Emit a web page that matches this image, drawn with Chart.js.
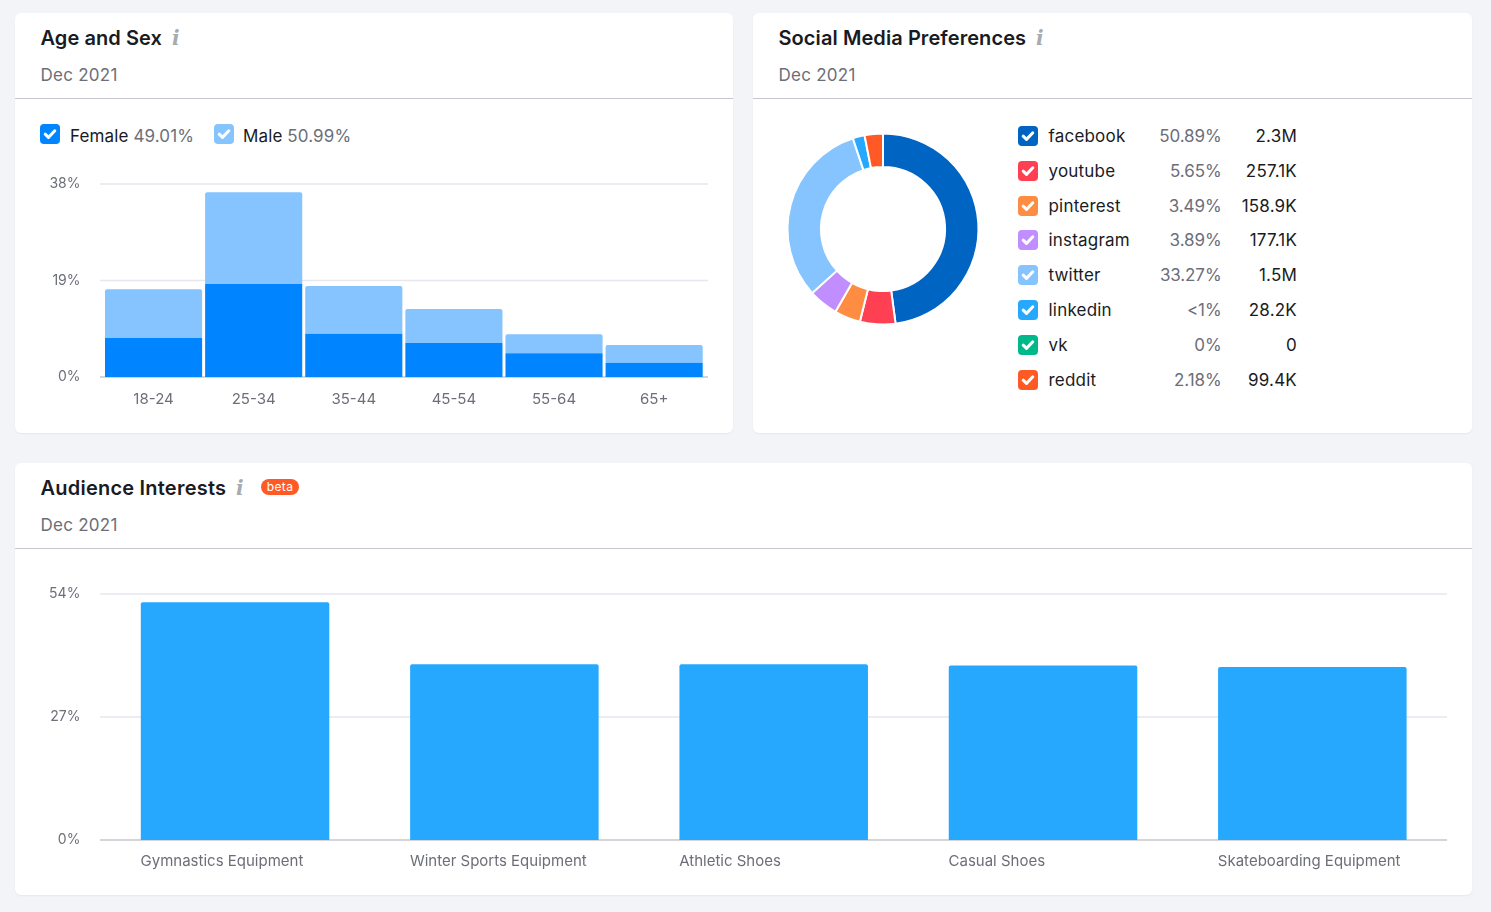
<!DOCTYPE html>
<html>
<head>
<meta charset="utf-8">
<title>Audience overview</title>
<script src="https://cdn.jsdelivr.net/npm/chart.js@4/dist/chart.umd.min.js"></script>
<style>
  html, body { margin: 0; padding: 0; background: #f2f4f8; }
  body { position: relative; width: 1491px; height: 912px; overflow: hidden; font-family: Inter, sans-serif; color: #191b23; }
  .card { position: absolute; background: #fff; border-radius: 6px; box-shadow: 0 1px 2px rgba(25,27,35,.06); }
  .head { position: absolute; left: 0; right: 0; top: 0; height: 85px; border-bottom: 1px solid #c4c7cf; }
  .title { position: absolute; left: 25.5px; top: 12px; font-size: 20px; line-height: 26px; font-weight: 600; white-space: nowrap; letter-spacing: .08px; }
  .info { position: absolute; top: 13px; font: italic 700 20px/24px "DejaVu Serif", serif; color: #a4acb0; }
  .date { position: absolute; left: 25.5px; top: 50px; font-size: 17px; line-height: 24px; color: #6c6e79; white-space: nowrap; letter-spacing: .25px; }
  .badge { position: absolute; left: 246px; top: 16px; width: 38px; height: 16px; border-radius: 8px; background: #ff5a26; color: #fff; font-size: 12px; line-height: 15px; text-align: center; letter-spacing: .4px; }
  canvas { position: absolute; }
  .box { position: absolute; width: 20px; height: 20px; border-radius: 4px; }
  .box svg { position: absolute; left: 0; top: 0; }
  .lab { position: absolute; font-size: 17px; line-height: 24px; white-space: nowrap; letter-spacing: .12px; }
  .lab span { color: #6c6e79; }
  .num { position: absolute; font-size: 17px; line-height: 24px; text-align: right; white-space: nowrap; }
  .muted { color: #6c6e79; letter-spacing: -.1px; }
  .count { letter-spacing: .2px; }
</style>
</head>
<body>
<div class="card" style="left:15px;top:13px;width:718px;height:420px">
  <div class="head"></div>
  <div class="title">Age and Sex</div>
  <div class="info" style="left:157px">i</div>
  <div class="date">Dec 2021</div>
</div>
<div class="card" style="left:753px;top:13px;width:719px;height:420px">
  <div class="head"></div>
  <div class="title">Social Media Preferences</div>
  <div class="info" style="left:283px">i</div>
  <div class="date">Dec 2021</div>
</div>
<div class="card" style="left:15px;top:463px;width:1457px;height:432px">
  <div class="head"></div>
  <div class="title" style="letter-spacing:.22px">Audience Interests</div>
  <div class="info" style="left:221px">i</div>
  <div class="badge">beta</div>
  <div class="date">Dec 2021</div>
</div>
<div id="legends"></div>
<canvas id="ageChart"></canvas>
<canvas id="socialChart"></canvas>
<canvas id="interestChart"></canvas>

<script>
// ── Data ──────────────────────────────────────────────────────────────────
var ageGroups = ['18-24', '25-34', '35-44', '45-54', '55-64', '65+'];
var femaleShare = [7.7, 18.3, 8.5, 6.7, 4.7, 2.8];
var maleShare = [9.6, 18.1, 9.4, 6.7, 3.7, 3.5];
var ageTicks = [0, 19, 38];

var networks = ['facebook', 'youtube', 'pinterest', 'instagram', 'twitter', 'linkedin', 'vk', 'reddit'];
var networkPercents = ['50.89%', '5.65%', '3.49%', '3.89%', '33.27%', '<1%', '0%', '2.18%'];
var networkCounts = ['2.3M', '257.1K', '158.9K', '177.1K', '1.5M', '28.2K', '0', '99.4K'];
// slice sizes as drawn in the picture, they differ a bit from the printed percents
var networkSlices = [47.9, 6.0, 4.4, 5.0, 31.6, 2.0, 0, 3.1];
var networkColors = ['#0064c2', '#ff4053', '#ff8c43', '#c08eff', '#85c4ff', '#27a8ff', '#00b98a', '#ff5a26'];

var interests = ['Gymnastics Equipment', 'Winter Sports Equipment', 'Athletic Shoes', 'Casual Shoes', 'Skateboarding Equipment'];
var interestShare = [52.2, 38.6, 38.6, 38.3, 38.0];
var interestTicks = [0, 27, 54];

// ── Helpers ───────────────────────────────────────────────────────────────
var tickColor = '#6c6e79';
var checkSvg = '<svg width="20" height="20" viewBox="0 0 20 20"><path d="M5.2 10.2l3.3 3.2 6.3-6.6" fill="none" stroke="#fff" stroke-width="3" stroke-linecap="round" stroke-linejoin="round"/></svg>';

function place(canvas, left, top, width, height) {
    canvas.width = width;
    canvas.height = height;
    canvas.style.left = left + 'px';
    canvas.style.top = top + 'px';
    canvas.style.width = width + 'px';
    canvas.style.height = height + 'px';
}

function addBox(parent, left, top, color) {
    var b = document.createElement('div');
    b.className = 'box';
    b.style.left = left + 'px';
    b.style.top = top + 'px';
    b.style.background = color;
    b.innerHTML = checkSvg;
    parent.appendChild(b);
}

function addText(parent, cls, css, html) {
    var d = document.createElement('div');
    d.className = cls;
    d.style.cssText = css;
    if (html.indexOf('</span>') > 0) d.innerHTML = html;
    else d.textContent = html;
    parent.appendChild(d);
}

// gridlines run a little past the plot area in the first chart
var gridPlugin = {
    id: 'wideGrid',
    beforeDatasetsDraw: function (chart, args, opts) {
        var y = chart.scales.y, ctx = chart.ctx;
        ctx.save();
        ctx.lineWidth = 1.5;
        y.ticks.forEach(function (t) {
            var py = y.getPixelForValue(t.value);
            ctx.strokeStyle = t.value === 0 ? '#c4c7cf' : '#e6e7ef';
            ctx.beginPath();
            ctx.moveTo(opts.from, py);
            ctx.lineTo(opts.to, py);
            ctx.stroke();
        });
        ctx.restore();
    }
};

function barOptions(cfg) {
    return {
        responsive: false,
        animation: false,
        layout: { padding: { top: 14, right: cfg.right, left: 0, bottom: 0 } },
        plugins: {
            legend: { display: false },
            tooltip: { enabled: false },
            wideGrid: { from: cfg.gridFrom, to: cfg.gridTo }
        },
        scales: {
            x: {
                stacked: true,
                grid: { display: false, drawTicks: false },
                border: { display: false },
                afterFit: function (s) {
                    s.height = cfg.axisHeight;
                    s.paddingLeft = 0;
                    s.paddingRight = 0;
                },
                ticks: {
                    color: tickColor,
                    font: { family: 'Inter', size: 15 },
                    padding: cfg.xPad,
                    maxRotation: 0,
                    autoSkip: false,
                    align: cfg.xAlign,
                    labelOffset: cfg.xOffset
                }
            },
            y: {
                stacked: true,
                min: 0,
                max: cfg.ticks[cfg.ticks.length - 1],
                grid: { display: false, drawTicks: false },
                border: { display: false },
                afterFit: function (s) {
                    s.width = cfg.axisWidth;
                    s.paddingTop = 0;
                    s.paddingBottom = 0;
                },
                afterBuildTicks: function (s) {
                    s.ticks = cfg.ticks.map(function (v) { return { value: v }; });
                },
                ticks: {
                    color: tickColor,
                    font: { family: 'Inter', size: 14 },
                    padding: cfg.yPad,
                    callback: function (v) { return v + '%'; }
                }
            }
        }
    };
}

// ── Legends ───────────────────────────────────────────────────────────────
function initLegends() {
    var root = document.getElementById('legends');
    addBox(root, 40, 124, '#0084ff');
    addText(root, 'lab', 'left:70px;top:124px', 'Female <span>49.01%</span>');
    addBox(root, 214, 124, '#85c4ff');
    addText(root, 'lab', 'left:243px;top:124px', 'Male <span>50.99%</span>');

    networks.forEach(function (name, i) {
        var mid = 136 + i * 34.8;
        addBox(root, 1018, mid - 10, networkColors[i]);
        addText(root, 'lab', 'left:1048.5px;top:' + (mid - 12) + 'px;letter-spacing:.2px', name);
        addText(root, 'num muted', 'right:' + (1491 - 1221.5) + 'px;top:' + (mid - 12) + 'px', networkPercents[i]);
        addText(root, 'num count', 'right:' + (1491 - 1297) + 'px;top:' + (mid - 12) + 'px', networkCounts[i]);
    });
}

// ── Charts ────────────────────────────────────────────────────────────────
function initCharts() {
    var age = document.getElementById('ageChart');
    place(age, 30, 170, 690, 250);
    new Chart(age.getContext('2d'), {
        type: 'bar',
        plugins: [gridPlugin],
        data: {
            labels: ageGroups,
            datasets: [
                { label: 'Female', data: femaleShare, backgroundColor: '#0084ff', barPercentage: 0.97, categoryPercentage: 1 },
                { label: 'Male', data: maleShare, backgroundColor: '#85c4ff', barPercentage: 0.97, categoryPercentage: 1,
                  borderRadius: { topLeft: 2, topRight: 2, bottomLeft: 0, bottomRight: 0 }, borderSkipped: false }
            ]
        },
        options: barOptions({
            right: 15.8, axisWidth: 73.5, axisHeight: 43, xPad: 13, yPad: 23,
            gridFrom: 70, gridTo: 678, ticks: ageTicks, xAlign: 'center', xOffset: 0
        })
    });

    var social = document.getElementById('socialChart');
    place(social, 783, 129, 200, 200);
    new Chart(social.getContext('2d'), {
        type: 'doughnut',
        data: {
            labels: networks,
            datasets: [{
                data: networkSlices,
                backgroundColor: networkColors,
                borderColor: '#fff',
                borderWidth: 2
            }]
        },
        options: {
            responsive: false,
            animation: false,
            cutout: '65%',
            radius: 95.5,
            plugins: { legend: { display: false }, tooltip: { enabled: false } }
        }
    });

    var interest = document.getElementById('interestChart');
    place(interest, 30, 580, 1430, 300);
    new Chart(interest.getContext('2d'), {
        type: 'bar',
        plugins: [gridPlugin],
        data: {
            labels: interests,
            datasets: [{
                label: 'Audience Interests',
                data: interestShare,
                backgroundColor: '#27a8ff',
                barPercentage: 0.7,
                categoryPercentage: 1,
                borderRadius: { topLeft: 2, topRight: 2, bottomLeft: 0, bottomRight: 0 },
                borderSkipped: false
            }]
        },
        options: barOptions({
            right: 13, axisWidth: 70.4, axisHeight: 40, xPad: 12, yPad: 20,
            gridFrom: 70, gridTo: 1417, ticks: interestTicks, xAlign: 'start', xOffset: -94.5
        })
    });
}

// ── Boot ──────────────────────────────────────────────────────────────────
initLegends();
initCharts();
</script>
</body>
</html>
